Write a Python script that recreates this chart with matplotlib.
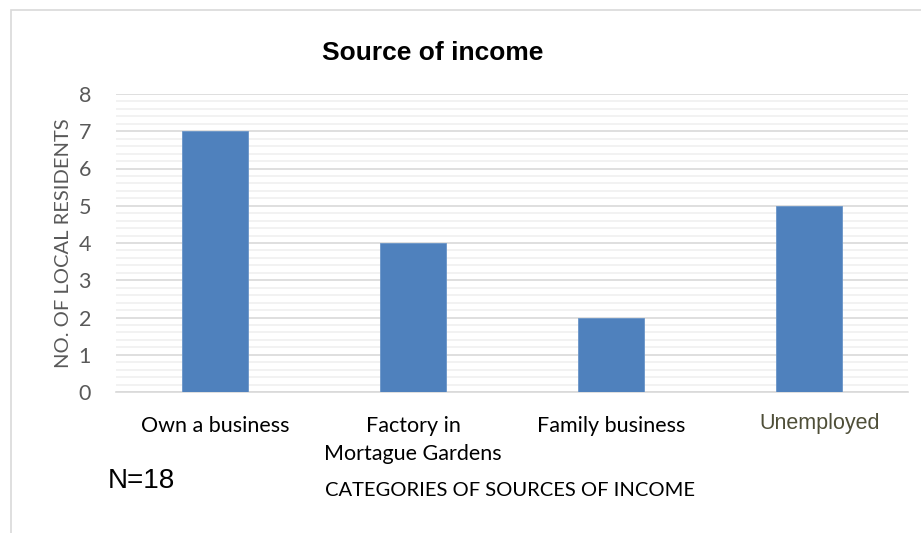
import matplotlib
matplotlib.use("Agg")
import matplotlib.pyplot as plt
from matplotlib.patches import Rectangle
from matplotlib.ticker import MultipleLocator
from matplotlib.transforms import ScaledTranslation

categories = ["Own a business", "Factory in\nMortague Gardens", "Family business", "Unemployed"]
residents = [7, 4, 2, 5]
y_ticks = [0, 1, 2, 3, 4, 5, 6, 7, 8]

W, H = 921, 533
fig = plt.figure(figsize=(W / 100, H / 100), dpi=100)

# light chart frame, running off the right and bottom edges
fig.patches.append(Rectangle((10.5 / W, -0.1), 1.2, 1 - 10.5 / H + 0.1,
                             transform=fig.transFigure, fill=False,
                             edgecolor="#d9d9d9", lw=1.2))

ax = fig.add_axes([116 / W, 1 - 392 / H, (908 - 116) / W, (392 - 94) / H])
x = list(range(len(categories)))
ax.bar(x, residents, width=0.335, color="#4f81bd", edgecolor="#6a95c8", lw=0.6, zorder=3)

ax.set_xlim(-0.5, 3.5)
ax.set_ylim(0, 8)
ax.set_yticks(y_ticks)
ax.yaxis.set_minor_locator(MultipleLocator(0.2))
ax.grid(axis="y", which="major", color="#d9d9d9", lw=1.2, zorder=0)
ax.grid(axis="y", which="minor", color="#f0f0f0", lw=1.2, zorder=0)
for s in ["top", "right", "left"]:
    ax.spines[s].set_visible(False)
ax.spines["bottom"].set_color("#d9d9d9")
ax.spines["bottom"].set_linewidth(1.2)
ax.tick_params(axis="both", which="both", length=0)
ax.tick_params(axis="y", pad=18, labelsize=15.5, labelcolor="#595959")
for lab in ax.get_yticklabels():
    lab.set_family("Lato")

ax.set_xticks(x)
ax.set_xticklabels(categories, family="Lato", fontsize=15.5, color="black", linespacing=1.5)
ax.tick_params(axis="x", pad=17)
last = ax.get_xticklabels()[-1]
last.set_family("Liberation Sans")
last.set_color("#4f4f38")
last.set_fontsize(15.5)
last.set_transform(last.get_transform() + ScaledTranslation(0.11, 0.03, fig.dpi_scale_trans))

ax.set_ylabel("NO. OF LOCAL RESIDENTS", family="Lato", fontsize=14.5, color="#595959", labelpad=5)

fig.text(433 / W, 1 - 53 / H, "Source of income", family="Liberation Sans",
         fontweight="bold", fontsize=19, ha="center", va="center")
fig.text(510 / W, 1 - 490 / H, "CATEGORIES OF SOURCES OF INCOME", family="Lato",
         fontsize=14.5, ha="center", va="center")
fig.text(141 / W, 1 - 481 / H, "N=18", family="Liberation Sans",
         fontsize=20, ha="center", va="center")

fig.savefig("out.png", dpi=100)
